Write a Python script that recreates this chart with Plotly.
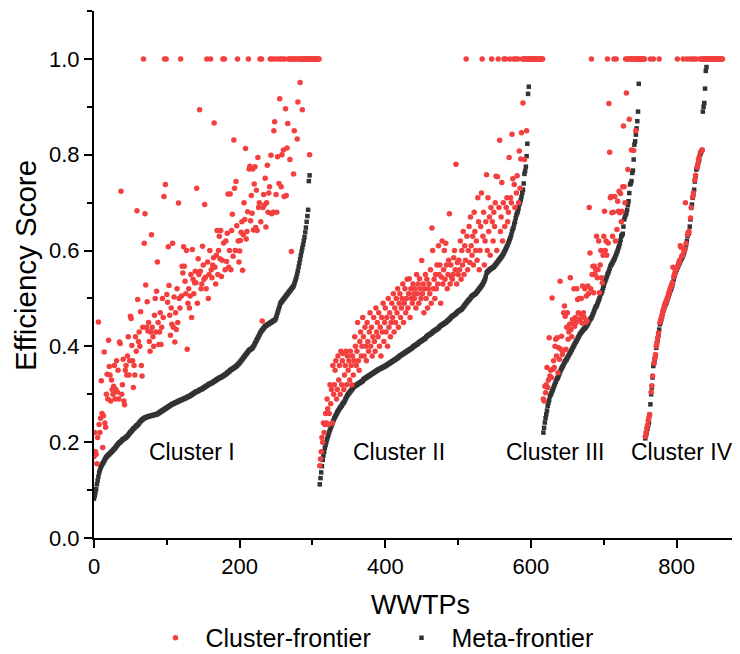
import plotly.graph_objects as go

# ---------------- data (efficiency scores in thousandths) ----------------
cluster_names = ["Cluster I", "Cluster II", "Cluster III", "Cluster IV"]
cluster_start = [0, 310, 617, 757]          # first WWTP index of each cluster

# Meta-frontier scores (sorted within each cluster; DMUs with score 1.0 are hidden under the red row)
meta_c1 = [
    82, 88, 95, 102, 112, 120, 128, 136, 141, 146,
    150, 153, 156, 158, 161, 164, 167, 169, 171, 172,
    174, 175, 177, 178, 180, 181, 183, 185, 186, 188,
    190, 192, 194, 196, 198, 199, 200, 202, 203, 205,
    206, 207, 208, 209, 210, 212, 213, 215, 217, 219,
    221, 222, 224, 226, 228, 229, 231, 232, 234, 235,
    236, 238, 240, 242, 244, 245, 247, 248, 249, 250,
    251, 252, 252, 253, 253, 254, 254, 255, 255, 255,
    256, 256, 257, 257, 257, 258, 258, 259, 260, 261,
    262, 263, 264, 265, 266, 267, 268, 269, 270, 271,
    272, 273, 274, 275, 276, 277, 278, 279, 280, 280,
    281, 282, 283, 283, 284, 285, 286, 286, 287, 288,
    288, 289, 290, 290, 291, 292, 292, 293, 294, 295,
    295, 296, 297, 298, 299, 300, 301, 302, 303, 304,
    305, 306, 306, 307, 308, 309, 310, 310, 311, 312,
    313, 314, 315, 316, 317, 318, 319, 320, 321, 322,
    322, 323, 324, 325, 326, 327, 328, 329, 330, 331,
    332, 333, 334, 335, 335, 336, 337, 338, 339, 340,
    341, 342, 343, 345, 346, 347, 348, 350, 351, 352,
    353, 354, 355, 356, 357, 358, 360, 361, 363, 364,
    366, 368, 370, 372, 374, 376, 378, 380, 382, 384,
    386, 388, 390, 392, 393, 394, 395, 396, 398, 400,
    403, 406, 409, 412, 415, 418, 421, 424, 427, 430,
    432, 434, 436, 438, 440, 442, 443, 444, 445, 446,
    447, 448, 449, 450, 451, 452, 453, 454, 455, 456,
    460, 465, 470, 475, 480, 485, 490, 492, 494, 496,
    498, 500, 502, 504, 506, 508, 510, 512, 514, 516,
    518, 520, 522, 524, 526, 530, 535, 540, 545, 552,
    558, 566, 574, 582, 590, 598, 605, 612, 620, 628,
    638, 648, 660, 672, 685, 745, 757,
]
meta_c2 = [
    112, 125, 137, 150, 163, 172, 180, 188, 194, 200,
    206, 211, 216, 221, 226, 230, 234, 238, 242, 246,
    250, 253, 256, 259, 262, 265, 267, 270, 272, 274,
    276, 279, 281, 283, 285, 289, 292, 295, 298, 300,
    302, 304, 306, 308, 310, 312, 314, 316, 317, 318,
    319, 320, 321, 322, 323, 324, 325, 326, 327, 328,
    331, 332, 333, 334, 335, 336, 337, 338, 339, 340,
    341, 342, 343, 344, 345, 346, 347, 348, 349, 350,
    351, 352, 353, 353, 354, 355, 356, 357, 357, 358,
    359, 360, 361, 362, 363, 364, 365, 366, 367, 368,
    369, 370, 371, 372, 373, 374, 375, 376, 377, 379,
    380, 381, 382, 383, 384, 385, 386, 387, 388, 389,
    390, 391, 392, 393, 394, 395, 396, 397, 399, 400,
    401, 402, 403, 404, 405, 406, 408, 409, 410, 411,
    412, 413, 414, 415, 416, 417, 419, 421, 422, 423,
    424, 425, 426, 427, 428, 430, 431, 432, 433, 434,
    435, 436, 437, 438, 440, 442, 443, 444, 445, 446,
    447, 448, 449, 450, 451, 453, 454, 455, 457, 458,
    460, 462, 463, 464, 465, 466, 467, 469, 470, 472,
    473, 474, 475, 476, 477, 478, 480, 482, 484, 486,
    488, 490, 492, 494, 496, 497, 499, 501, 503, 505,
    506, 507, 508, 509, 510, 512, 514, 516, 518, 520,
    522, 524, 526, 528, 531, 534, 537, 541, 546, 553,
    555, 557, 558, 560, 561, 562, 563, 564, 565, 566,
    568, 570, 572, 574, 576, 578, 580, 582, 584, 586,
    588, 590, 593, 596, 599, 602, 605, 609, 612, 616,
    620, 624, 628, 633, 640, 645, 648, 655, 660, 668,
    674, 678, 682, 688, 696, 700, 706, 712, 720, 727,
    740, 760, 766, 775, 797, 823, 927, 942,
]
meta_c3 = [
    220, 230, 241, 250, 258, 266, 276, 282, 288, 296,
    299, 302, 306, 310, 314, 318, 322, 326, 330, 333,
    335, 339, 343, 347, 351, 354, 357, 359, 363, 366,
    369, 371, 373, 376, 379, 382, 385, 387, 390, 393,
    396, 399, 402, 405, 408, 410, 413, 416, 419, 422,
    425, 427, 429, 431, 433, 435, 437, 438, 440, 442,
    444, 447, 450, 453, 456, 458, 460, 463, 467, 471,
    475, 479, 483, 484, 488, 492, 496, 500, 505, 510,
    512, 516, 522, 527, 533, 537, 541, 545, 550, 553,
    557, 562, 567, 570, 572, 575, 578, 581, 584, 588,
    592, 596, 600, 605, 609, 615, 622, 630, 632, 635,
    650, 665, 670, 675, 678, 685, 695, 703, 720, 738,
    740, 745, 762, 767, 790, 821, 828, 842, 855, 870, 890, 948,
]
meta_c4 = [
    208, 215, 220, 228, 235, 241, 257, 279, 300, 314,
    335, 359, 365, 373, 381, 397, 405, 415, 423, 435,
    446, 450, 456, 462, 470, 475, 480, 485, 488, 491,
    496, 501, 505, 510, 515, 518, 522, 527, 533, 540,
    546, 553, 556, 560, 564, 567, 571, 574, 578, 581,
    584, 587, 590, 594, 599, 605, 613, 620, 630, 634,
    637, 650, 665, 689, 696, 710, 717, 727, 744, 755,
    769, 772, 776, 785, 790, 800, 803, 807, 810, 890,
    900, 908, 938, 975, 983,
]

# Cluster-frontier scores (same WWTP order as above)
eff_c1 = [
    170, 220, 180, 175, 155, 210, 451, 237, 220, 250,
    328, 260, 189, 255, 388, 240, 231, 300, 342, 290,
    413, 358, 340, 286, 330, 310, 300, 317, 360, 290,
    310, 370, 305, 350, 290, 409, 406, 724, 300, 320,
    373, 286, 278, 350, 360, 340, 380, 420, 340, 370,
    463, 458, 402, 370, 314, 360, 340, 420, 390, 683,
    498, 410, 430, 400, 472, 360, 338, 440, 1000, 615,
    677, 528, 440, 493, 432, 450, 410, 390, 430, 633,
    440, 420, 400, 465, 500, 430, 515, 576, 450, 404,
    430, 470, 404, 440, 500, 460, 713, 1000, 738, 1000,
    508, 492, 608, 527, 465, 423, 480, 446, 615, 440,
    503, 409, 470, 435, 520, 450, 699, 500, 480, 1000,
    505, 567, 553, 608, 567, 536, 510, 600, 394, 490,
    520, 480, 505, 550, 460, 602, 540, 510, 533, 557,
    533, 730, 490, 583, 550, 894, 557, 520, 530, 609,
    570, 540, 696, 544, 520, 1000, 576, 500, 550, 600,
    1000, 560, 543, 570, 585, 866, 565, 530, 590, 642,
    550, 600, 630, 583, 642, 546, 580, 1000, 616, 1000,
    560, 620, 577, 636, 718, 565, 600, 718, 560, 642,
    676, 588, 831, 730, 600, 744, 652, 1000, 620, 576,
    599, 621, 638, 660, 559, 633, 700, 665, 813, 624,
    640, 681, 1000, 770, 776, 662, 715, 678, 770, 643,
    739, 775, 648, 726, 642, 794, 690, 700, 1000, 660,
    1000, 453, 690, 717, 695, 751, 649, 700, 778, 680,
    720, 733, 1000, 799, 677, 1000, 680, 850, 869, 1000,
    717, 680, 796, 1000, 740, 917, 1000, 733, 800, 1000,
    810, 713, 1000, 896, 715, 814, 865, 1000, 1000, 790,
    1000, 598, 1000, 1000, 760, 850, 1000, 1000, 1000, 833,
    910, 1000, 1000, 951, 1000, 1000, 894, 1000, 1000, 1000,
    1000, 1000, 1000, 1000, 1000, 1000, 800, 1000, 1000, 1000,
    1000, 1000, 1000, 1000, 1000, 1000, 1000, 1000, 1000, 1000,
]
eff_c2 = [
    151, 165, 180, 210, 200, 240, 220, 237, 260, 240,
    290, 270, 237, 260, 320, 280, 310, 240, 360, 300,
    320, 350, 370, 290, 310, 380, 330, 360, 300, 390,
    320, 370, 385, 310, 340, 360, 390, 320, 380, 350,
    370, 330, 390, 360, 320, 380, 340, 370, 420, 400,
    360, 390, 450, 370, 350, 410, 430, 380, 400, 460,
    420, 380, 440, 400, 370, 450, 410, 390, 430, 470,
    400, 440, 380, 420, 460, 410, 390, 480, 430, 450,
    420, 470, 400, 440, 380, 460, 430, 490, 410, 450,
    480, 430, 460, 400, 500, 440, 470, 420, 450, 490,
    460, 510, 430, 480, 450, 500, 470, 520, 440, 490,
    510, 460, 480, 500, 530, 450, 490, 520, 470, 500,
    540, 480, 510, 541, 460, 520, 500, 490, 530, 510,
    500, 520, 480, 550, 510, 530, 490, 541, 520, 500,
    579, 510, 530, 470, 520, 550, 500, 540, 480, 520,
    530, 510, 560, 490, 647, 600, 520, 540, 500, 550,
    520, 570, 530, 610, 550, 570, 490, 545, 620, 530,
    560, 600, 540, 615, 570, 520, 550, 580, 677, 530,
    570, 545, 540, 550, 585, 600, 560, 780, 530, 575,
    550, 580, 560, 620, 540, 600, 570, 640, 550, 610,
    580, 1000, 630, 560, 600, 650, 575, 670, 610, 590,
    630, 570, 680, 640, 600, 620, 580, 710, 660, 560,
    600, 650, 720, 1000, 630, 680, 570, 620, 660, 758,
    600, 710, 640, 670, 590, 690, 1000, 660, 620, 680,
    650, 700, 755, 600, 754, 1000, 690, 830, 640, 670,
    742, 620, 700, 1000, 650, 1000, 690, 710, 660, 680,
    794, 1000, 710, 700, 843, 750, 1000, 738, 690, 1000,
    720, 756, 1000, 700, 808, 730, 791, 846, 1000, 908,
    1000, 790, 1000, 1000, 850, 1000, 1000, 1000, 1000, 1000,
    1000, 1000, 1000, 1000, 1000, 1000, 1000, 1000, 1000, 1000,
    1000, 1000, 1000, 1000, 1000, 1000, 1000,
]
eff_c3 = [
    290, 286, 317, 303, 320, 356, 314, 330, 418, 338,
    350, 335, 501, 352, 370, 356, 400, 415, 380, 418,
    345, 397, 373, 536, 394, 421, 383, 390, 470, 484,
    463, 394, 440, 470, 415, 430, 446, 543, 435, 420,
    456, 450, 520, 442, 460, 450, 520, 498, 470, 500,
    456, 467, 500, 449, 526, 470, 460, 520, 450, 505,
    453, 526, 510, 690, 595, 520, 1000, 550, 567, 512,
    567, 550, 560, 630, 543, 560, 620, 512, 570, 600,
    543, 533, 590, 630, 682, 600, 620, 590, 1000, 616,
    907, 805, 710, 713, 679, 630, 680, 1000, 713, 620,
    1000, 644, 703, 682, 724, 679, 719, 660, 682, 733,
    860, 733, 700, 1000, 929, 1000, 769, 1000, 874, 1000,
    1000, 810, 1000, 1000, 809, 1000, 1000, 850, 1000, 1000,
    1000, 1000, 1000, 1000, 1000, 1000, 1000, 1000, 1000, 1000,
]
eff_c4 = [
    212, 220, 229, 236, 245, 252, 258, 1000, 305, 318,
    338, 1000, 365, 375, 383, 400, 408, 418, 428, 1000,
    450, 455, 460, 466, 473, 478, 484, 488, 492, 495,
    500, 504, 510, 515, 520, 524, 528, 533, 565, 545,
    550, 556, 560, 563, 1000, 570, 575, 580, 610, 607,
    588, 590, 1000, 598, 603, 700, 615, 1000, 633, 638,
    640, 1000, 668, 690, 1000, 712, 720, 1000, 747, 757,
    1000, 774, 780, 790, 795, 1000, 806, 1000, 810, 1000,
    1000, 1000, 1000, 1000, 1000, 1000, 1000, 1000, 1000, 1000,
    1000, 1000, 1000, 1000, 1000, 1000, 1000, 1000, 1000, 1000,
    1000, 1000, 1000, 1000, 1000, 1000, 1000,
]

x_ticks = [0, 200, 400, 600, 800]
y_ticks = [0.0, 0.2, 0.4, 0.6, 0.8, 1.0]

# ---------------- build series ----------------
meta_lists = [meta_c1, meta_c2, meta_c3, meta_c4]
eff_lists = [eff_c1, eff_c2, eff_c3, eff_c4]

xm, ym, xc, yc = [], [], [], []
for start, meta, eff in zip(cluster_start, meta_lists, eff_lists):
    xm += [start + i for i in range(len(meta))]
    ym += [v / 1000 for v in meta]
    xc += [start + i for i in range(len(eff))]
    yc += [v / 1000 for v in eff]

FONT = "Liberation Sans, Arial, sans-serif"
RED = "#F43F3F"
DARK = "#333333"

fig = go.Figure()
fig.add_trace(go.Scatter(
    x=xm, y=ym, mode="markers", name="Meta-frontier",
    marker=dict(symbol="square", size=4.5, color=DARK, line=dict(width=0)),
))
fig.add_trace(go.Scatter(
    x=xc, y=yc, mode="markers", name="Cluster-frontier",
    marker=dict(symbol="circle", size=5.5, color=RED, line=dict(width=0)),
))

label_x = [135, 419, 633, 807]
annotations = [
    dict(x=lx, y=0.18, xref="x", yref="y", text=name, showarrow=False,
         font=dict(family=FONT, size=23, color="black"),
         xanchor="center", yanchor="middle")
    for lx, name in zip(label_x, cluster_names)
]
annotations.append(dict(x=0.505, y=-0.127, xref="paper", yref="paper", text="WWTPs",
                        showarrow=False, font=dict(family=FONT, size=27, color="black"),
                        xanchor="center", yanchor="middle"))
annotations.append(dict(x=-0.107, y=0.518, xref="paper", yref="paper", text="Efficiency Score",
                        showarrow=False, textangle=-90,
                        font=dict(family=FONT, size=29.5, color="black"),
                        xanchor="center", yanchor="middle"))

axis_common = dict(
    showline=True, linecolor="black", linewidth=2, mirror=False,
    ticks="outside", ticklen=8, tickwidth=2, tickcolor="black",
    showgrid=False, zeroline=False, automargin=False,
    tickfont=dict(family=FONT, size=22, color="black"),
)

# the page body adds an 8 px offset, so the figure is 8 px smaller and shifted
fig.update_layout(
    width=732, height=646,
    margin=dict(l=86, r=0, t=3, b=116, autoexpand=False),
    paper_bgcolor="white", plot_bgcolor="white",
    font=dict(family=FONT, color="black"),
    xaxis=dict(range=[0, 887], tickvals=x_ticks, ticktext=[str(v) for v in x_ticks],
               minor=dict(dtick=100, tick0=0, ticks="outside", ticklen=5, tickwidth=1.5,
                          tickcolor="black", showgrid=False),
               **axis_common),
    yaxis=dict(range=[0, 1.1], tickvals=y_ticks, ticktext=[f"{v:.1f}" for v in y_ticks],
               minor=dict(dtick=0.1, tick0=0, ticks="outside", ticklen=5, tickwidth=1.5,
                          tickcolor="black", showgrid=False),
               **axis_common),
    showlegend=True,
    legend=dict(orientation="h", xref="container", yref="container",
                x=0.5239, xanchor="center", y=0.0248, yanchor="middle",
                traceorder="reversed", font=dict(family=FONT, size=25, color="black"),
                bgcolor="rgba(0,0,0,0)", itemwidth=50,
                entrywidth=181, entrywidthmode="pixels"),
    annotations=annotations,
)

fig.write_html("out.html")
